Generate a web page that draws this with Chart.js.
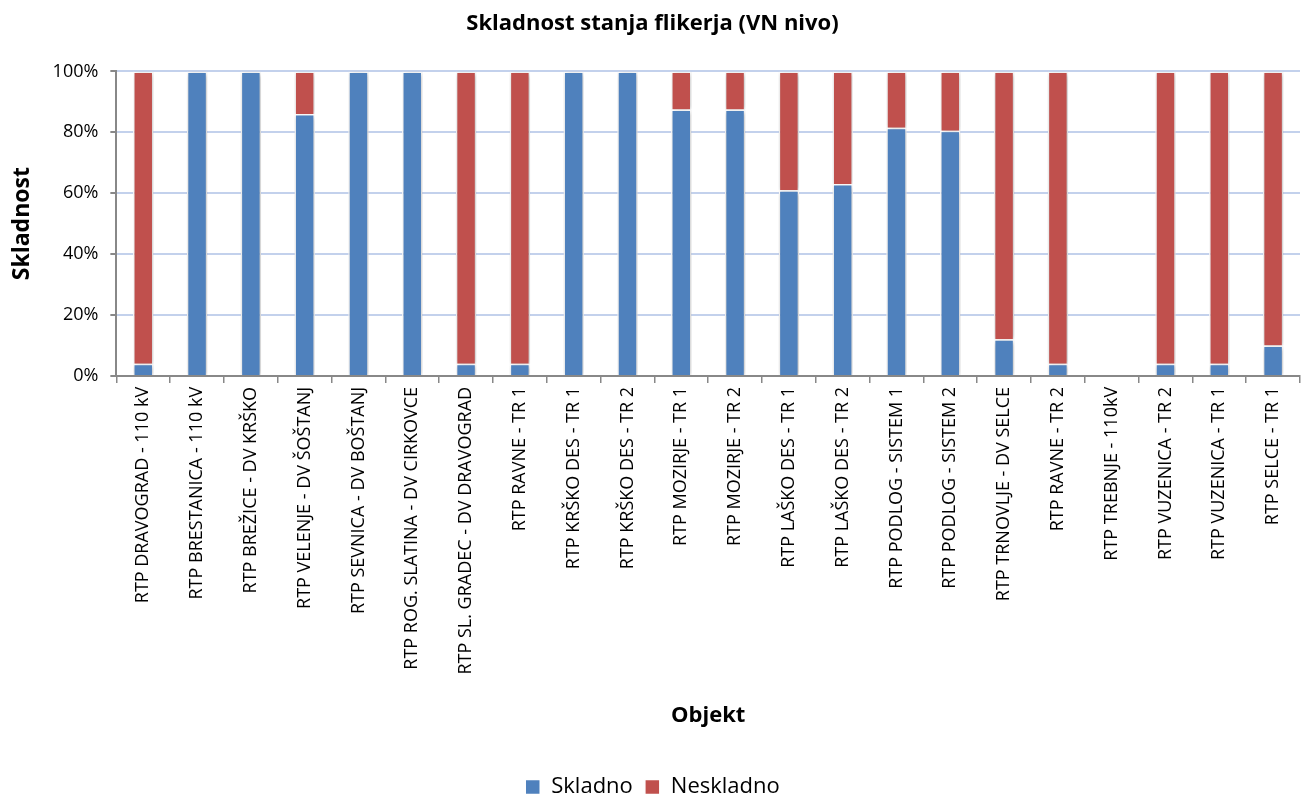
<!DOCTYPE html>
<html>
<head>
<meta charset="utf-8">
<script src="https://cdn.jsdelivr.net/npm/chart.js@4/dist/chart.umd.min.js"></script>
<style>
  html, body { margin: 0; padding: 0; background: #fff; }
  #wrap { width: 1302px; height: 796px; }
</style>
</head>
<body>
<div id="wrap"><canvas id="myChart" width="1302" height="796"></canvas></div>
<script>
let objekti = ['RTP DRAVOGRAD - 110 kV', 'RTP BRESTANICA - 110 kV', 'RTP BREŽICE - DV KRŠKO',
'RTP VELENJE - DV ŠOŠTANJ', 'RTP SEVNICA - DV BOŠTANJ', 'RTP ROG. SLATINA - DV CIRKOVCE',
'RTP SL. GRADEC - DV DRAVOGRAD', 'RTP RAVNE - TR 1', 'RTP KRŠKO DES - TR 1', 'RTP KRŠKO DES - TR 2',
'RTP MOZIRJE - TR 1', 'RTP MOZIRJE - TR 2', 'RTP LAŠKO DES - TR 1', 'RTP LAŠKO DES - TR 2',
'RTP PODLOG - SISTEM 1', 'RTP PODLOG - SISTEM 2', 'RTP TRNOVLJE - DV SELCE', 'RTP RAVNE - TR 2',
'RTP TREBNJE - 110kV', 'RTP VUZENICA - TR 2', 'RTP VUZENICA - TR 1', 'RTP SELCE - TR 1'];

let skladno   = [4, 100, 100, 86, 100, 100, 4, 4, 100, 100, 87.5, 87.5, 61, 63, 81.5, 80.5, 12, 4, null, 4, 4, 10];
let neskladno = [96, 0, 0, 14, 0, 0, 96, 96, 0, 0, 12.5, 12.5, 39, 37, 18.5, 19.5, 88, 96, null, 96, 96, 90];

let yTicks = [0, 20, 40, 60, 80, 100];

const FONT = '"Open Sans", sans-serif';

// soft shadow behind the bars, like the office chart
const barShadow = {
    id: 'barShadow',
    beforeDatasetsDraw(chart) {
        const ctx = chart.ctx;
        ctx.save();
        ctx.shadowColor = 'rgba(0,0,0,0.28)';
        ctx.shadowBlur = 5;
        ctx.shadowOffsetX = 1;
        ctx.shadowOffsetY = 1;
    },
    afterDatasetsDraw(chart) {
        chart.ctx.restore();
    }
};

let chartElement = document.getElementById('myChart').getContext('2d');

let myChart = new Chart(chartElement, {
    type: 'bar',
    data: {
        labels: objekti,
        datasets: [{
            label: 'Skladno',
            data: skladno,
            backgroundColor: '#4f81bd',
            borderColor: '#ffffff',
            borderWidth: 1.5,
            barPercentage: 0.38,
            categoryPercentage: 1.0
        }, {
            label: 'Neskladno',
            data: neskladno,
            backgroundColor: '#c0504d',
            borderColor: '#ffffff',
            borderWidth: 1.5,
            barPercentage: 0.38,
            categoryPercentage: 1.0
        }]
    },
    options: {
        responsive: false,
        animation: false,
        layout: { padding: { top: 2, right: 2, left: 5, bottom: -12 } },
        plugins: {
            title: {
                display: true,
                text: 'Skladnost stanja flikerja (VN nivo)',
                color: '#000',
                font: { family: FONT, size: 22, weight: 'bold' },
                padding: { top: 9, bottom: 34 }
            },
            legend: {
                position: 'bottom',
                labels: {
                    color: '#000',
                    font: { family: FONT, size: 22 },
                    boxWidth: 15,
                    boxHeight: 15,
                    padding: 12
                }
            },
            tooltip: { enabled: false }
        },
        scales: {
            x: {
                stacked: true,
                grid: {
                    offset: true,
                    drawOnChartArea: false,
                    color: '#888',
                    tickLength: 7,
                    lineWidth: 1.5
                },
                border: { color: '#888', width: 2 },
                ticks: {
                    autoSkip: false,
                    minRotation: 90,
                    maxRotation: 90,
                    color: '#000',
                    padding: 4,
                    font: { family: FONT, size: 18 }
                },
                title: {
                    display: true,
                    text: 'Objekt',
                    color: '#000',
                    font: { family: FONT, size: 22, weight: 'bold' },
                    padding: { top: 24, bottom: 35 }
                }
            },
            y: {
                stacked: true,
                min: 0,
                max: 100,
                afterBuildTicks: function(axis) {
                    axis.ticks = yTicks.map(v => ({ value: v }));
                },
                grid: {
                    color: '#c3d1ec',
                    lineWidth: 2,
                    tickLength: 6,
                    tickColor: '#888'
                },
                border: { color: '#888', width: 2 },
                ticks: {
                    color: '#000',
                    padding: 12,
                    font: { family: FONT, size: 18 },
                    callback: v => v + '%'
                },
                title: {
                    display: true,
                    text: 'Skladnost',
                    color: '#000',
                    font: { family: FONT, size: 23, weight: 'bold' },
                    padding: { bottom: 4 }
                }
            }
        }
    },
    plugins: [barShadow]
});
</script>
</body>
</html>
